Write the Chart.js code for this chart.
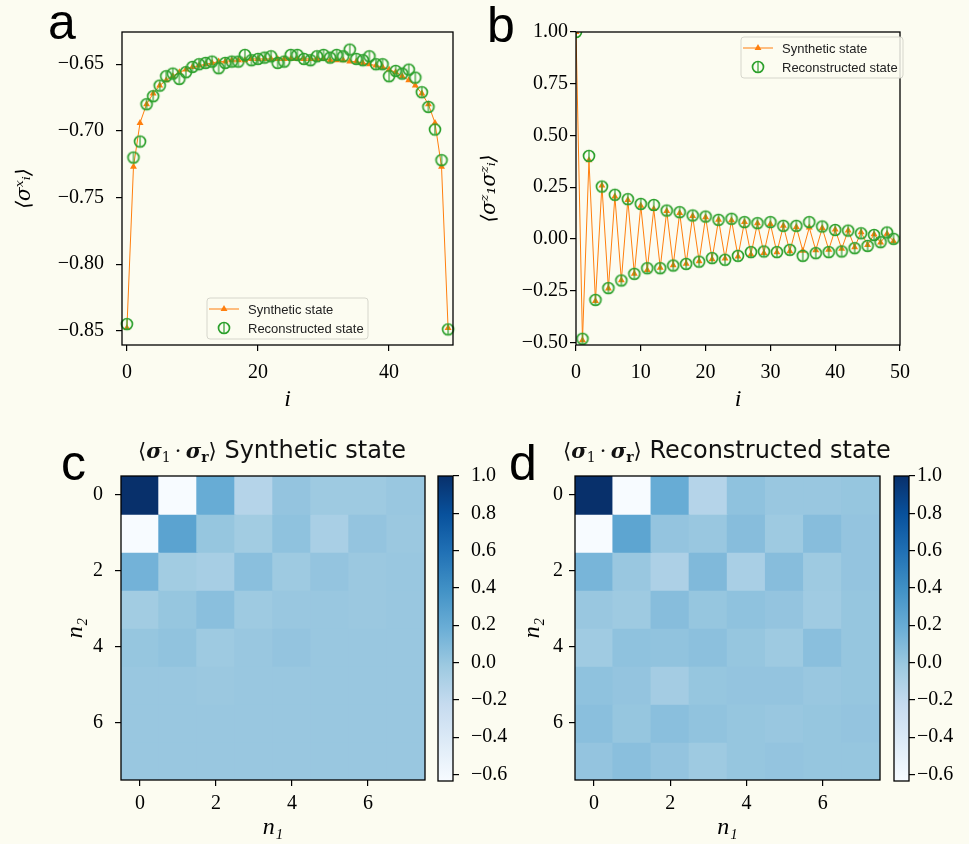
<!DOCTYPE html>
<html>
<head>
<meta charset="utf-8">
<script src="https://cdn.jsdelivr.net/npm/chart.js@4.4.1/dist/chart.umd.min.js"></script>
<style>
  html, body { margin: 0; padding: 0; background: #fcfcf1; }
  #fig { position: relative; width: 969px; height: 844px; overflow: hidden; }
  #fig canvas { position: absolute; }
  .letter { position: absolute; font: 50px/1 "Liberation Sans", Arial, sans-serif; color: #000; }
  .title { position: absolute; font: 24px/1 "DejaVu Sans", sans-serif; color: #111; white-space: nowrap; }
  .title .m { font-family: "DejaVu Serif", serif; font-size: 21px; }
  .title .sig { font-weight: bold; font-style: italic; }
  .title sub { font-size: 14px; line-height: 0; vertical-align: -4px; }
  .title sub.bold { font-weight: bold; }
</style>
</head>
<body>
<div id="fig">
  <canvas id="chart-a" width="462" height="420" style="left:0;top:0"></canvas>
  <canvas id="chart-b" width="450" height="420" style="left:470px;top:0"></canvas>
  <canvas id="heat-c" width="430" height="404" style="left:0;top:440px"></canvas>
  <canvas id="cbar-c" width="80" height="404" style="left:430px;top:440px"></canvas>
  <canvas id="heat-d" width="415" height="404" style="left:470px;top:440px"></canvas>
  <canvas id="cbar-d" width="83" height="404" style="left:886px;top:440px"></canvas>

  <div class="letter" style="left:48px;top:-3px">a</div>
  <div class="letter" style="left:487px;top:0px">b</div>
  <div class="letter" style="left:61px;top:438px">c</div>
  <div class="letter" style="left:509px;top:438px">d</div>

  <div class="title" style="left:138px;top:438px"><span class="m">⟨<span class="sig">σ</span><sub>1</sub>&thinsp;·&thinsp;<span class="sig">σ</span><sub class="bold">r</sub>⟩</span> Synthetic state</div>
  <div class="title" style="left:563px;top:438px"><span class="m">⟨<span class="sig">σ</span><sub>1</sub>&thinsp;·&thinsp;<span class="sig">σ</span><sub class="bold">r</sub>⟩</span> Reconstructed state</div>
</div>

<script>
// ---- data ----
const sites = [0, 1, 2, 3, 4, 5, 6, 7, 8, 9, 10, 11, 12, 13, 14, 15, 16, 17, 18, 19,
    20, 21, 22, 23, 24, 25, 26, 27, 28, 29, 30, 31, 32, 33, 34, 35, 36, 37, 38, 39,
    40, 41, 42, 43, 44, 45, 46, 47, 48, 49];

// panel a: <sigma_i^x>
const synthX = [-0.848, -0.727, -0.694, -0.680, -0.672, -0.666, -0.662, -0.659, -0.656, -0.654,
    -0.652, -0.651, -0.650, -0.649, -0.648, -0.648, -0.647, -0.647, -0.647, -0.646,
    -0.646, -0.646, -0.646, -0.646, -0.646, -0.646, -0.646, -0.646, -0.646, -0.646,
    -0.646, -0.647, -0.647, -0.647, -0.648, -0.648, -0.649, -0.650, -0.651, -0.652,
    -0.654, -0.656, -0.659, -0.662, -0.666, -0.672, -0.680, -0.694, -0.727, -0.848];
const reconX = [-0.845, -0.720, -0.708, -0.680, -0.674, -0.666, -0.659, -0.657, -0.661, -0.656,
    -0.652, -0.650, -0.649, -0.648, -0.653, -0.649, -0.648, -0.648, -0.643, -0.647,
    -0.646, -0.645, -0.644, -0.649, -0.648, -0.643, -0.643, -0.646, -0.647, -0.644,
    -0.643, -0.645, -0.643, -0.644, -0.639, -0.646, -0.647, -0.644, -0.650, -0.650,
    -0.659, -0.655, -0.657, -0.654, -0.660, -0.671, -0.682, -0.699, -0.722, -0.849];

// panel b: <sigma_1^z sigma_i^z>
const synthZZ = [1.000, -0.490, 0.380, -0.300, 0.258, -0.240, 0.205, -0.200, 0.188, -0.168,
    0.160, -0.150, 0.145, -0.140, 0.135, -0.128, 0.125, -0.120, 0.110, -0.108,
    0.105, -0.098, 0.092, -0.095, 0.090, -0.085, 0.082, -0.075, 0.075, -0.068,
    0.072, -0.065, 0.063, -0.060, 0.058, -0.058, 0.055, -0.055, 0.052, -0.052,
    0.045, -0.048, 0.040, -0.040, 0.032, -0.030, 0.022, -0.018, 0.025, -0.012];
const reconZZ = [1.000, -0.483, 0.401, -0.295, 0.253, -0.238, 0.213, -0.201, 0.192, -0.169,
    0.169, -0.142, 0.164, -0.142, 0.137, -0.129, 0.129, -0.121, 0.113, -0.110,
    0.108, -0.093, 0.092, -0.101, 0.097, -0.082, 0.081, -0.064, 0.076, -0.061,
    0.081, -0.064, 0.063, -0.053, 0.063, -0.082, 0.081, -0.069, 0.060, -0.064,
    0.043, -0.061, 0.040, -0.045, 0.027, -0.034, 0.019, -0.016, 0.031, 0.000];

const xTicksA = [0, 20, 40];
const yTicksA = [-0.85, -0.80, -0.75, -0.70, -0.65];
const xTicksB = [0, 10, 20, 30, 40, 50];
const yTicksB = [-0.50, -0.25, 0.00, 0.25, 0.50, 0.75, 1.00];

// panels c, d: <sigma_1 . sigma_r>, rows = n2, columns = n1
const n1Sites = [0, 1, 2, 3, 4, 5, 6, 7];
const n2Sites = [0, 1, 2, 3, 4, 5, 6, 7];
const gridTicks = [0, 2, 4, 6];
const corrSynth = [
    [1.00, -0.635, 0.20, -0.14, 0.02, -0.02, -0.02, 0.00],
    [-0.635, 0.26, 0.01, -0.04, 0.04, -0.08, 0.02, -0.01],
    [0.15, -0.04, -0.07, 0.06, -0.02, 0.02, -0.01, 0.00],
    [-0.04, 0.01, 0.06, -0.02, 0.00, 0.00, -0.01, 0.00],
    [0.01, 0.03, -0.02, 0.00, 0.02, 0.00, 0.00, 0.00],
    [0.00, 0.00, -0.01, 0.00, 0.00, 0.00, 0.00, 0.00],
    [0.00, 0.00, 0.00, 0.00, 0.00, 0.00, 0.00, 0.00],
    [0.00, 0.00, 0.00, 0.00, 0.00, 0.00, 0.00, 0.00]
];
const corrRecon = [
    [1.00, -0.635, 0.20, -0.14, 0.04, 0.00, 0.00, 0.01],
    [-0.635, 0.25, 0.02, 0.00, 0.07, -0.02, 0.07, 0.02],
    [0.13, 0.00, -0.10, 0.10, -0.08, 0.07, -0.02, 0.02],
    [0.00, -0.02, 0.07, 0.01, 0.04, 0.02, -0.03, 0.01],
    [-0.03, 0.04, 0.03, 0.05, 0.01, -0.02, 0.06, 0.01],
    [0.04, 0.02, -0.05, 0.01, 0.02, 0.02, 0.00, 0.01],
    [0.06, 0.01, 0.06, 0.03, 0.01, 0.00, 0.01, 0.02],
    [0.02, 0.06, 0.02, -0.02, 0.01, 0.02, 0.01, 0.01]
];
const cbarTicks = [-0.6, -0.4, -0.2, 0.0, 0.2, 0.4, 0.6, 0.8, 1.0];
const cbarMin = -0.635;
const cbarMax = 1.0;

// ---- styling helpers ----
const ORANGE = "#ff7f0e";
const GREEN = "#2ca02c";
const SERIF = "'Liberation Serif', 'Times New Roman', serif";
const bluesStops = ["#f7fbff", "#deebf7", "#c6dbef", "#9ecae1", "#6baed6", "#4292c6", "#2171b5", "#08519c", "#08306b"];

function hexRgb(h) {
    return [1, 3, 5].map((k) => parseInt(h.slice(k, k + 2), 16));
}

function blues(v) {
    let t = (v - cbarMin) / (cbarMax - cbarMin);
    t = Math.max(0, Math.min(1, t));
    const p = t * (bluesStops.length - 1);
    const k = Math.min(bluesStops.length - 2, Math.floor(p));
    const f = p - k;
    const a = hexRgb(bluesStops[k]);
    const b = hexRgb(bluesStops[k + 1]);
    const c = a.map((x, i) => Math.round(x + (b[i] - x) * f));
    return `rgb(${c[0]},${c[1]},${c[2]})`;
}

function minus(s) {
    return s.replace("-", "\u2212");
}

// circle with a short vertical error bar, like the matplotlib marker
function ringMarker(color) {
    const c = document.createElement("canvas");
    c.width = 16;
    c.height = 16;
    const g = c.getContext("2d");
    g.strokeStyle = color;
    g.lineWidth = 1.7;
    g.beginPath();
    g.arc(8, 8, 5.5, 0, Math.PI * 2);
    g.stroke();
    g.lineWidth = 1.2;
    g.beginPath();
    g.moveTo(8, 3);
    g.lineTo(8, 13);
    g.stroke();
    return c;
}
const ring = ringMarker(GREEN);

function axis(o) {
    return {
        type: o.type || "linear",
        position: o.position,
        min: o.min,
        max: o.max,
        reverse: !!o.reverse,
        offset: false,
        grid: { drawOnChartArea: false, tickLength: 6, color: "#000", lineWidth: 1.2, offset: false },
        border: { display: false },
        ticks: {
            color: "#000",
            padding: o.pad,
            autoSkip: false,
            maxRotation: 0,
            font: { family: SERIF, size: 20 },
            callback: o.fmt
        },
        title: o.title
            ? {
                  display: true,
                  text: o.title,
                  color: "#000",
                  font: { family: o.titleFamily || SERIF, size: o.titleSize || 24, style: "italic" },
                  padding: o.titlePad
              }
            : { display: false },
        afterBuildTicks: (s) => {
            s.ticks = o.ticks.map((v) => ({ value: v }));
        },
        afterFit: (s) => {
            if (o.position === "bottom") s.height = o.size;
            else s.width = o.size;
        }
    };
}

const framePlugin = {
    id: "frame",
    afterDraw(chart) {
        const { ctx, chartArea: a } = chart;
        ctx.save();
        ctx.strokeStyle = "#000";
        ctx.lineWidth = 1.3;
        ctx.strokeRect(a.left, a.top, a.right - a.left, a.bottom - a.top);
        ctx.restore();
    }
};

// legend box drawn inside the axes, matplotlib style
const boxLegend = {
    id: "boxLegend",
    afterDraw(chart, args, opts) {
        if (!opts.box) return;
        const { ctx } = chart;
        const b = opts.box;
        ctx.save();
        ctx.beginPath();
        ctx.roundRect(b.x, b.y, b.w, b.h, 3);
        ctx.fillStyle = "rgba(252,252,241,0.85)";
        ctx.fill();
        ctx.strokeStyle = "#d6d6cc";
        ctx.lineWidth = 1;
        ctx.stroke();
        chart.data.datasets.forEach((ds, k) => {
            const y = b.y + opts.rows[k];
            if (ds.showLine) {
                ctx.strokeStyle = ds.borderColor;
                ctx.lineWidth = ds.borderWidth;
                ctx.beginPath();
                ctx.moveTo(opts.markerX - 15, y);
                ctx.lineTo(opts.markerX + 15, y);
                ctx.stroke();
            }
            ctx.fillStyle = ds.pointBackgroundColor || "transparent";
            ctx.strokeStyle = ds.pointBorderColor || ds.borderColor;
            Chart.helpers.drawPoint(ctx, { pointStyle: ds.pointStyle, radius: ds.pointRadius, borderWidth: ds.pointBorderWidth, rotation: 0 }, opts.markerX, y);
            ctx.fillStyle = "#222";
            ctx.font = "13px 'Liberation Sans', Arial, sans-serif";
            ctx.textBaseline = "middle";
            ctx.fillText(ds.label, opts.textX, y + 1);
        });
        ctx.restore();
    }
};

function profileChart(id, synth, recon, o) {
    return new Chart(document.getElementById(id), {
        type: "scatter",
        data: {
            datasets: [
                {
                    label: "Synthetic state",
                    data: sites.map((s, k) => ({ x: s, y: synth[k] })),
                    showLine: true,
                    borderColor: ORANGE,
                    borderWidth: 1,
                    pointStyle: "triangle",
                    pointRadius: 4,
                    pointBackgroundColor: ORANGE,
                    pointBorderColor: ORANGE,
                    pointBorderWidth: 0,
                    order: 1,
                    clip: o.clip
                },
                {
                    label: "Reconstructed state",
                    data: sites.map((s, k) => ({ x: s, y: recon[k] })),
                    showLine: false,
                    pointStyle: ring,
                    pointRadius: 6,
                    borderColor: GREEN,
                    order: 0,
                    clip: o.clip
                }
            ]
        },
        options: {
            responsive: false,
            animation: false,
            events: [],
            layout: { padding: o.padding },
            plugins: { legend: { display: false }, tooltip: { enabled: false }, boxLegend: o.legend },
            scales: { x: o.x, y: o.y }
        },
        plugins: [framePlugin, boxLegend]
    });
}

profileChart("chart-a", synthX, reconX, {
    clip: false,
    padding: { top: 32, right: 9, left: 0, bottom: 0 },
    legend: { box: { x: 207, y: 298, w: 161, h: 41 }, rows: [11, 30], markerX: 224, textX: 248 },
    x: axis({ position: "bottom", min: -0.75, max: 49.75, ticks: xTicksA, pad: 10, size: 75,
        fmt: (v) => String(v), title: "i", titlePad: { top: 0, bottom: 6 } }),
    y: axis({ position: "left", min: -0.8607, max: -0.6258, ticks: yTicksA, pad: 12, size: 122,
        fmt: (v) => minus(v.toFixed(2)), title: "\u27E8\u03C3\u02E3\u1D62\u27E9", titleSize: 20,
        titleFamily: "'DejaVu Serif', serif", titlePad: { top: 13, bottom: 0 } })
});

profileChart("chart-b", synthZZ, reconZZ, {
    clip: 0,
    padding: { top: 32, right: 11, left: 0, bottom: 0 },
    legend: { box: { x: 271, y: 37, w: 162, h: 41 }, rows: [11, 30], markerX: 288, textX: 312 },
    x: axis({ position: "bottom", min: 0, max: 50, ticks: xTicksB, pad: 10, size: 75,
        fmt: (v) => String(v), title: "i", titlePad: { top: 0, bottom: 6 } }),
    y: axis({ position: "left", min: -0.513, max: 1.0, ticks: yTicksB, pad: 2, size: 106,
        fmt: (v) => minus(v.toFixed(2)), title: "\u27E8\u03C3\u1DBB\u2081\u03C3\u1DBB\u1D62\u27E9", titleSize: 20,
        titleFamily: "'DejaVu Serif', serif", titlePad: { top: 8, bottom: 0 } })
});

function heatmap(id, matrix, o) {
    return new Chart(document.getElementById(id), {
        type: "bar",
        data: {
            datasets: n2Sites.map((r) => ({
                data: n1Sites.map((c) => ({ x: c, y: [r - 0.5, r + 0.5] })),
                backgroundColor: n1Sites.map((c) => blues(matrix[r][c])),
                borderWidth: 0,
                borderSkipped: false,
                inflateAmount: 0.7,
                grouped: false,
                barPercentage: 1,
                categoryPercentage: 1
            }))
        },
        options: {
            responsive: false,
            animation: false,
            events: [],
            layout: { padding: o.padding },
            plugins: { legend: { display: false }, tooltip: { enabled: false } },
            scales: {
                x: axis({ position: "bottom", min: -0.5, max: 7.5, ticks: gridTicks, pad: 6, size: 64,
                    fmt: (v) => String(v), title: "n\u2081", titlePad: { top: 0, bottom: 2 } }),
                y: axis({ position: "left", min: -0.5, max: 7.5, reverse: true, ticks: gridTicks, pad: o.ypad, size: o.ysize,
                    fmt: (v) => String(v), title: "n\u2082", titlePad: { top: o.ytitle, bottom: 0 } })
            }
        },
        plugins: [framePlugin]
    });
}

heatmap("heat-c", corrSynth, { padding: { top: 36, right: 5, left: 0, bottom: 0 }, ypad: 12, ysize: 121, ytitle: 61 });
heatmap("heat-d", corrRecon, { padding: { top: 36, right: 5, left: 0, bottom: 0 }, ypad: 6, ysize: 105, ytitle: 48 });

function colorbar(id, o) {
    return new Chart(document.getElementById(id), {
        type: "bar",
        data: {
            labels: [""],
            datasets: [{
                data: [[cbarMin, cbarMax]],
                barPercentage: 1,
                categoryPercentage: 1,
                borderWidth: 0,
                backgroundColor: (ctx) => {
                    const chart = ctx.chart;
                    const y = chart.scales.y;
                    if (!chart.chartArea || !y) return bluesStops[4];
                    const g = chart.ctx.createLinearGradient(0, y.getPixelForValue(cbarMin), 0, y.getPixelForValue(cbarMax));
                    bluesStops.forEach((c, k) => g.addColorStop(k / (bluesStops.length - 1), c));
                    return g;
                }
            }]
        },
        options: {
            responsive: false,
            animation: false,
            events: [],
            layout: { padding: { top: 36, left: 8, right: 0, bottom: 63 } },
            plugins: { legend: { display: false }, tooltip: { enabled: false } },
            scales: {
                x: { type: "category", display: false, offset: true },
                y: axis({ position: "right", min: cbarMin, max: cbarMax, ticks: cbarTicks, pad: o.pad, size: o.size,
                    fmt: (v) => minus(v.toFixed(1)) })
            }
        },
        plugins: [framePlugin]
    });
}

colorbar("cbar-c", { pad: 12, size: 57 });
colorbar("cbar-d", { pad: 2, size: 60 });
</script>
</body>
</html>
